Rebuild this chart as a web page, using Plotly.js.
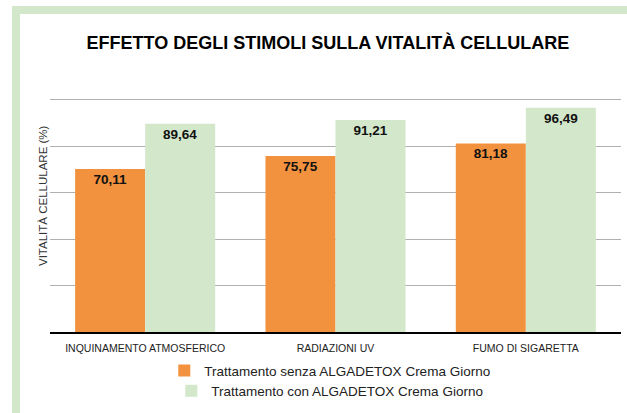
<!DOCTYPE html>
<html>
<head>
<meta charset="utf-8">
<script src="https://cdn.plot.ly/plotly-3.0.1.min.js"></script>
<style>
  html, body { margin: 0; padding: 0; background: #ffffff; overflow: hidden; }
  #wrap { position: relative; width: 627px; height: 413px; overflow: hidden; }
  #chart { position: absolute; left: 0; top: 0; width: 627px; height: 413px; }
  #frame { position: absolute; left: 12px; top: 6px; width: 720px; height: 416px;
           box-sizing: border-box; border: 8px solid #d3e7ca; border-bottom-width: 7px;
           pointer-events: none; z-index: 5; }
</style>
</head>
<body>
<div id="wrap">
  <div id="chart"></div>
  <div id="frame"></div>
</div>
<script>
const categories = ["INQUINAMENTO ATMOSFERICO", "RADIAZIONI UV", "FUMO DI SIGARETTA"];
const senza = [70.11, 75.75, 81.18];
const con = [89.64, 91.21, 96.49];
const seriesNames = ["Trattamento senza ALGADETOX Crema Giorno", "Trattamento con ALGADETOX Crema Giorno"];
const yTicks = [0, 20, 40, 60, 80, 100];

const orange = "#f2923f";
const green = "#d3e7ca";

const fontFam = "Liberation Sans, Arial, Helvetica, sans-serif";

const barText = {
  textposition: "inside",
  insidetextanchor: "end",
  texttemplate: "%{y:.2f}",
  textfont: { family: fontFam, size: 13.5, color: "#111111", weight: "bold" },
  constraintext: "none",
  hoverinfo: "skip"
};

const data = [
  Object.assign({
    type: "bar", x: categories, y: senza, name: seriesNames[0],
    marker: { color: orange }, legend: "legend"
  }, barText),
  Object.assign({
    type: "bar", x: categories, y: con, name: seriesNames[1],
    marker: { color: green }, legend: "legend2"
  }, barText)
];

const layout = {
  width: 627, height: 413,
  margin: { l: 50, r: 6, t: 95, b: 81, pad: 0 },
  paper_bgcolor: "#ffffff",
  plot_bgcolor: "#ffffff",
  separators: ",.",
  barmode: "group",
  bargap: 0.264,
  bargroupgap: 0,
  font: { family: fontFam, color: "#222222" },
  title: {
    text: "EFFETTO DEGLI STIMOLI SULLA VITALITÀ CELLULARE",
    font: { family: fontFam, size: 18, color: "#000000", weight: "bold" },
    x: 0.523, xanchor: "center",
    y: 0.896, yref: "container", yanchor: "middle"
  },
  xaxis: {
    type: "category",
    showgrid: false,
    showline: true, linecolor: "#000000", linewidth: 2,
    ticks: "",
    ticklabelstandoff: 5,
    tickfont: { family: fontFam, size: 10.5, color: "#222222" },
    fixedrange: true
  },
  yaxis: {
    range: [0, 102],
    tickmode: "array", tickvals: yTicks,
    showticklabels: false,
    showgrid: true, gridcolor: "#b0b0b0", gridwidth: 1,
    zeroline: false,
    showline: false,
    ticks: "",
    fixedrange: true
  },
  showlegend: true,
  legend: {
    x: 0.49, xanchor: "center", y: -0.098, yanchor: "top",
    orientation: "h",
    font: { family: fontFam, size: 13.5, color: "#222222" },
    bgcolor: "rgba(0,0,0,0)",
    itemwidth: 30
  },
  legend2: {
    x: 0.49, xanchor: "center", y: -0.183, yanchor: "top",
    orientation: "h",
    font: { family: fontFam, size: 13.5, color: "#222222" },
    bgcolor: "rgba(0,0,0,0)",
    itemwidth: 30
  },
  annotations: [{
    text: "VITALITÀ CELLULARE (%)",
    xref: "paper", yref: "paper",
    x: -0.0123, y: 0.578,
    xanchor: "center", yanchor: "middle",
    textangle: -90, showarrow: false,
    font: { family: fontFam, size: 11.5, color: "#333333" }
  }]
};

Plotly.newPlot("chart", data, layout, { displayModeBar: false, staticPlot: true });
</script>
</body>
</html>
